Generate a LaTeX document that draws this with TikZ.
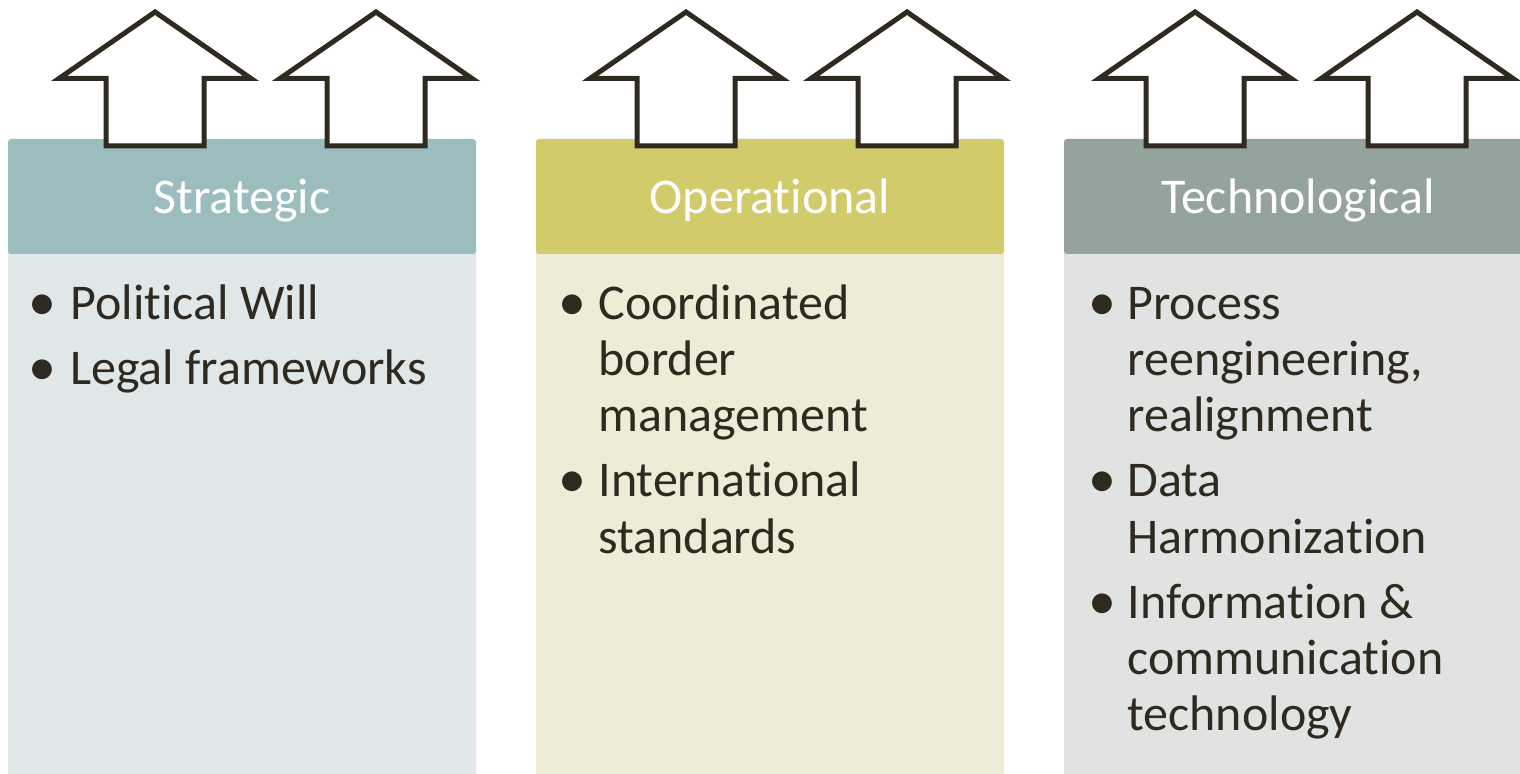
\documentclass[tikz,border=0pt]{standalone}
\usepackage{fontspec}
\setmainfont{Carlito}[Ligatures={NoCommon}]
\definecolor{hdA}{HTML}{9CBDBD}
\definecolor{bdA}{HTML}{DFE7E8}
\definecolor{hdB}{HTML}{D2CB6C}
\definecolor{bdB}{HTML}{EEEBD7}
\definecolor{hdC}{HTML}{94A39B}
\definecolor{bdC}{HTML}{E1E3E2}
\definecolor{ink}{HTML}{2F2A1F}
\tikzset{
  hdrtxt/.style={inner sep=0pt, text=white, font=\fontsize{25}{28}\selectfont},
  bodytxt/.style={inner sep=0pt, text=ink, font=\fontsize{25}{28}\selectfont},
  bultxt/.style={inner sep=0pt, text=ink, font=\fontsize{28}{28}\selectfont},
  arrowsty/.style={draw=ink, fill=white, line width=2.5pt, line join=miter},
  bigup/.pic={\draw[arrowsty] (0,12) -- (96,78.5) -- (49,78.5) -- (49,146) -- (-49,146) -- (-49,78.5) -- (-96,78.5) -- cycle;},
  panel/.style={rounded corners=1.5pt}
}
\begin{document}
\begin{tikzpicture}[x=0.5pt,y=-0.5pt]
\useasboundingbox (0,0) rectangle (1520,774);
\clip (0,0) rectangle (1520,774);
\fill[white] (0,0) rectangle (1520,774);
% panels
\fill[bdA, panel] (8,250) rectangle (476,800);
\fill[hdA, panel] (8,139) rectangle (476,254);
\fill[bdB, panel] (536,250) rectangle (1004,800);
\fill[hdB, panel] (536,139) rectangle (1004,254);
\fill[bdC, panel] (1064,250) rectangle (1532,800);
\fill[hdC, panel] (1064,139) rectangle (1532,254);
% arrows
\pic at (155,0) {bigup};
\pic at (376,0) {bigup};
\pic at (686,0) {bigup};
\pic at (907,0) {bigup};
\pic at (1195,0) {bigup};
\pic at (1417,0) {bigup};
% headers
\node[hdrtxt, anchor=base] (h1) at (242,214) {Strategic};
\node[hdrtxt, anchor=base] (h2) at (770,214) {Operational};
\node[hdrtxt, anchor=base] (h3) at (1298,214) {Technological};
% column 1
\node[bultxt, anchor=base] (a1b) at (42,321) {•};
\node[bodytxt, anchor=base west] (a1) at (70,320) {Political Will};
\node[bultxt, anchor=base] (a2b) at (42,386) {•};
\node[bodytxt, anchor=base west] (a2) at (70,385) {Legal frameworks};
% column 2
\node[bultxt, anchor=base] (b1b) at (572,321) {•};
\node[bodytxt, anchor=base west] (b1) at (598,320) {Coordinated};
\node[bodytxt, anchor=base west] (b1x) at (598,376) {border};
\node[bodytxt, anchor=base west] (b1y) at (598,432) {management};
\node[bultxt, anchor=base] (b2b) at (572,498) {•};
\node[bodytxt, anchor=base west] (b2) at (598,497) {International};
\node[bodytxt, anchor=base west] (b2x) at (598,553) {standards};
% column 3
\node[bultxt, anchor=base] (c1b) at (1102,321) {•};
\node[bodytxt, anchor=base west] (c1) at (1127,320) {Process};
\node[bodytxt, anchor=base west] (c1x) at (1127,376) {reengineering,};
\node[bodytxt, anchor=base west] (c1y) at (1127,432) {realignment};
\node[bultxt, anchor=base] (c2b) at (1102,498) {•};
\node[bodytxt, anchor=base west] (c2) at (1127,497) {Data};
\node[bodytxt, anchor=base west] (c2x) at (1127,553) {Harmonization};
\node[bultxt, anchor=base] (c3b) at (1102,619) {•};
\node[bodytxt, anchor=base west] (c3) at (1127,618) {Information \&};
\node[bodytxt, anchor=base west] (c3x) at (1127,674) {communication};
\node[bodytxt, anchor=base west] (c3y) at (1127,730) {technology};
\end{tikzpicture}
\end{document}
